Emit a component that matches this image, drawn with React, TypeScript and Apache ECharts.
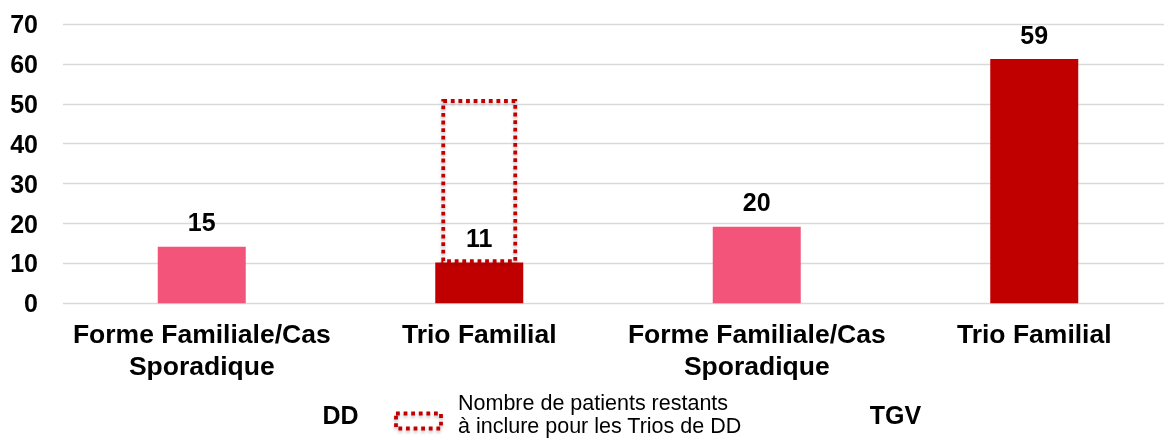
import React, { useEffect, useRef } from "react";
import * as echarts from "echarts";

const categories = ["Forme Familiale/Cas\nSporadique", "Trio Familial", "Forme Familiale/Cas\nSporadique", "Trio Familial"];
const groups = ["DD", "TGV"];
const barValues = [14.2, 10.2, 19.2, 61.2];
const barLabels = ["15", "11", "20", "59"];
const remaining = [0, 40.5, 0, 0];
const yTicks = [0, 10, 20, 30, 40, 50, 60, 70];
const legendLines = ["Nombre de patients restants", "à inclure pour les Trios de DD"];

const PINK = "#F2547A";
const RED = "#C00000";
const FONT = "'Liberation Sans', Arial, sans-serif";

export default function App() {
  const ref = useRef<HTMLDivElement>(null);
  useEffect(() => {
    if (!ref.current) return;
    const chart = echarts.init(ref.current, null, { renderer: "svg" });
    const colors = [PINK, RED, PINK, RED];
    const boxData: number[][] = [];
    remaining.forEach((r, i) => {
      if (r > 0) boxData.push([i, barValues[i], barValues[i] + r]);
    });
    chart.setOption({
      animation: false,
      grid: { left: 63, right: 7, top: 24, bottom: 134.7 },
      xAxis: [
        {
          type: "category",
          data: categories,
          axisLine: { show: false },
          axisTick: { show: false },
          axisLabel: {
            interval: 0,
            margin: 15,
            fontFamily: FONT,
            fontWeight: "bold",
            fontSize: 26.5,
            lineHeight: 32,
            color: "#000",
          },
        },
        {
          type: "category",
          data: groups,
          position: "bottom",
          offset: 90,
          axisLine: { show: false },
          axisTick: { show: false },
          axisLabel: {
            interval: 0,
            margin: 7,
            fontFamily: FONT,
            fontWeight: "bold",
            fontSize: 25,
            lineHeight: 30,
            color: "#000",
          },
        },
      ],
      yAxis: {
        type: "value",
        min: yTicks[0],
        max: yTicks[yTicks.length - 1],
        interval: 10,
        axisLine: { show: false },
        axisTick: { show: false },
        axisLabel: {
          margin: 25,
          fontFamily: FONT,
          fontWeight: "bold",
          fontSize: 25,
          color: "#000",
        },
        splitLine: { lineStyle: { color: "#D9D9D9", width: 1.3 } },
      },
      series: [
        {
          type: "bar",
          xAxisIndex: 0,
          barWidth: 88,
          data: barValues.map((v, i) => ({ value: v, itemStyle: { color: colors[i] } })),
          label: {
            show: true,
            position: "top",
            distance: 12,
            fontFamily: FONT,
            fontWeight: "bold",
            fontSize: 25,
            color: "#000",
            formatter: (p: any) => barLabels[p.dataIndex],
          },
          z: 2,
        },
        {
          type: "custom",
          xAxisIndex: 0,
          yAxisIndex: 0,
          coordinateSystem: "cartesian2d",
          encode: { x: 0, y: [1, 2] },
          data: boxData,
          clip: false,
          renderItem: (params: any, api: any) => {
            const x = api.value(0);
            const p0 = api.coord([x, api.value(1)]);
            const p1 = api.coord([x, api.value(2)]);
            const w = 72;
            return {
              type: "rect",
              shape: { x: p0[0] - w / 2, y: p1[1], width: w, height: p0[1] - p1[1] - 1.5 },
              style: {
                fill: "none",
                stroke: RED,
                lineWidth: 3.8,
                lineDash: [3.8, 3.8],
                shadowBlur: 3,
                shadowColor: "rgba(0,0,0,0.25)",
                shadowOffsetY: 2,
              },
            };
          },
          z: 3,
        },
      ],
      graphic: [
        {
          type: "rect",
          shape: { x: 396, y: 413.5, width: 45, height: 15 },
          style: {
            fill: "none",
            stroke: RED,
            lineWidth: 3.8,
            lineDash: [3.8, 3.8],
            shadowBlur: 3,
            shadowColor: "rgba(0,0,0,0.25)",
            shadowOffsetY: 2,
          },
        },
        {
          type: "text",
          x: 458,
          y: 392,
          style: {
            text: legendLines.join("\n"),
            fontFamily: FONT,
            fontSize: 21.5,
            lineHeight: 22.5,
            fill: "#000",
            textAlign: "left",
            textVerticalAlign: "top",
          },
        },
      ],
    });
    return () => chart.dispose();
  }, []);
  return (
    <div
      ref={ref}
      style={{ position: "fixed", left: 0, top: 0, width: 1180, height: 438 }}
    />
  );
}
